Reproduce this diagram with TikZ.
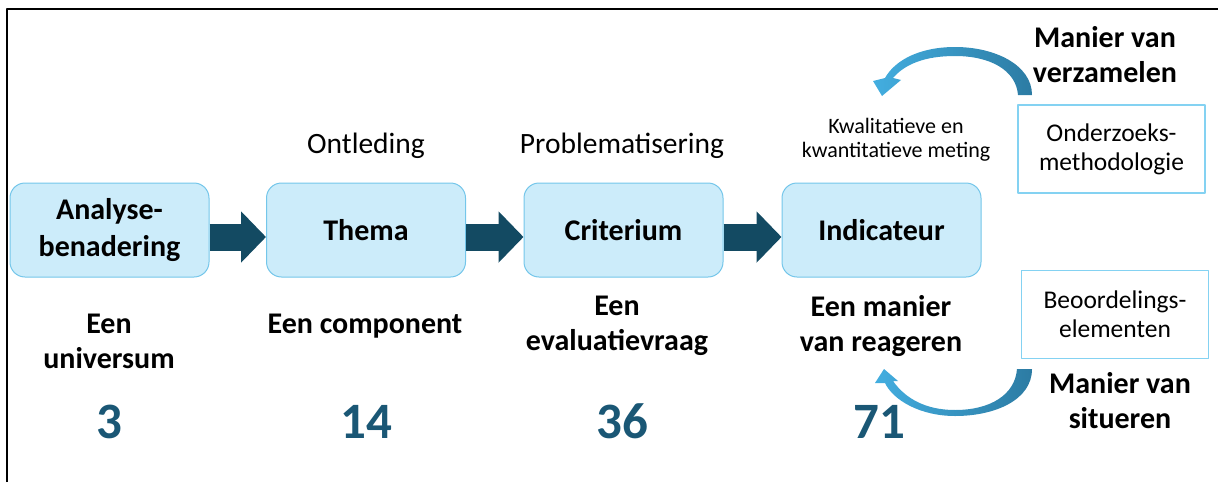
\documentclass[tikz,border=0pt]{standalone}
\usepackage{fontspec}
\setmainfont{Carlito}
\usetikzlibrary{arrows.meta}
\definecolor{vakblauw}{HTML}{CCECFA}
\definecolor{vakrand}{HTML}{74C6EA}
\definecolor{kaderrand}{HTML}{84D2F2}
\definecolor{donker}{HTML}{134A62}
\definecolor{getalkleur}{HTML}{1A5775}
\definecolor{boogl}{HTML}{43AEE0}
\definecolor{boogd}{HTML}{2C7BA3}
\begin{document}
\begin{tikzpicture}[x=1pt,y=-1pt, line join=round,
	vak/.style={draw=vakrand, fill=vakblauw, line width=1pt, rounded corners=15pt, minimum width=199pt, minimum height=94pt, align=center, font=\fontsize{30}{37}\selectfont\bfseries},
	kader/.style={draw=kaderrand, line width=1.2pt, minimum width=187pt, minimum height=88pt, align=center, font=\fontsize{25.5}{29}\selectfont},
	pijl/.style={draw=donker, line width=27pt, -{Triangle[length=25pt,width=50pt]}},
	vet/.style={align=center, font=\fontsize{30}{35}\selectfont\bfseries},
	gewoon/.style={align=center, font=\fontsize{29.5}{34}\selectfont},
	getal/.style={anchor=base, text=getalkleur, font=\fontsize{51}{54}\selectfont\bfseries}]
	\useasboundingbox (0,0) rectangle (1218,482);
	\draw[line width=2.5pt] (7,482) -- (7,9) -- (1218,9);% kader
	% vakken
	\foreach \i/\x/\t in {1/109.5/{Analyse-\\benadering}, 2/366/Thema, 3/623.5/Criterium, 4/881.5/Indicateur}{
		\node[vak] (B\i) at (\x,230) {\t};
	}
	\foreach \a/\b in {B1/B2, B2/B3, B3/B4}{
		\draw[pijl] ([yshift=-7pt]\a.east) -- ([yshift=-7pt]\b.west);
	}
	% boven
	\node[gewoon, anchor=base] (ontl) at (366,153) {Ontleding};
	\node[gewoon, anchor=base] (probl) at (622,153) {Problematisering};
	\node[align=center, font=\fontsize{22}{24}\selectfont] (meting) at (896,140) {Kwalitatieve en\\kwantitatieve meting};
	% onder
	\node[vet] (univ) at (109,341) {Een\\universum};
	\node[vet, anchor=base] (comp) at (365,333) {Een component};
	\node[vet] (vraag) at (617,326) {Een\\evaluatievraag};
	\node[vet] (reag) at (881,326) {Een manier\\van reageren};
	\foreach \x/\n in {109/3, 366/14, 622/36, 879/71}{
		\node[getal] (N\n) at (\x,438) {\n};
	}
	% rechts
	\node[kader] (onderz) at (1111.5,149) {Onderzoeks-\\methodologie};
	\node[kader] (beoord) at (1115,314.5) {Beoordelings-\\elementen};
	\node[vet] (verz) at (1105,55) {Manier van\\verzamelen};
	\node[vet] (situ) at (1120,400.5) {Manier van\\situeren};
	% bogen
	\shade[left color=boogl, right color=boogd] (1032,95) .. controls (1032,65) and (995,47) .. (955,47)
		.. controls (920,47) and (895,60) .. (885,78) -- (873,81) -- (882,96) -- (901,80) -- (893,78)
		.. controls (905,64) and (925,56) .. (955,56) .. controls (990,56) and (1016,70) .. (1018,95) -- cycle;
	\shade[left color=boogl, right color=boogd] (1032,369) .. controls (1032,400) and (995,416) .. (955,416)
		.. controls (920,416) and (893,400) .. (885,383) -- (875,383) -- (884,369) -- (898,381) -- (893,381)
		.. controls (905,398) and (925,410) .. (955,410) .. controls (990,410) and (1015,395) .. (1017,369) -- cycle;
\end{tikzpicture}
\end{document}
